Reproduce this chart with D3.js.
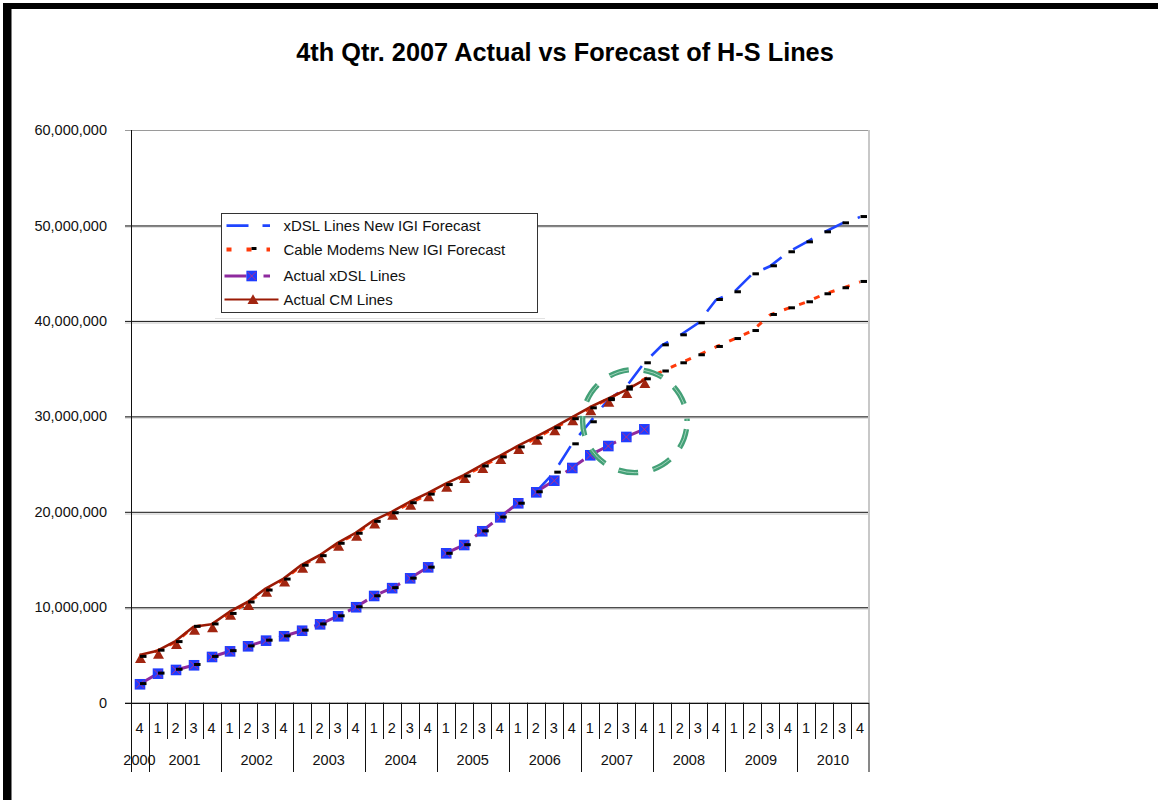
<!DOCTYPE html>
<html>
<head>
<meta charset="utf-8">
<script src="https://cdn.jsdelivr.net/npm/d3@7"></script>
<style>
  html, body { margin: 0; padding: 0; background: #fff; }
  svg { display: block; font-family: "Liberation Sans", Arial, sans-serif; }
</style>
</head>
<body>
<svg id="chart" width="1158" height="800"></svg>
<script>
// Quarterly categories: 2000 Q4 through 2010 Q4
const yearLabels = ["2000", "2001", "2002", "2003", "2004", "2005", "2006", "2007", "2008", "2009", "2010"];
const quartersInYear = [1, 4, 4, 4, 4, 4, 4, 4, 4, 4, 4];
const quarterLabels = ["4",
  "1", "2", "3", "4", "1", "2", "3", "4", "1", "2", "3", "4", "1", "2", "3", "4",
  "1", "2", "3", "4", "1", "2", "3", "4", "1", "2", "3", "4", "1", "2", "3", "4",
  "1", "2", "3", "4", "1", "2", "3", "4"];

// Line counts, in millions
const xdslForecast = [1.95, 3.05, 3.45, 3.95, 4.80, 5.40, 5.90, 6.50, 6.95, 7.55, 8.20, 9.05, 10.00,
  11.15, 12.00, 13.00, 14.15, 15.60, 16.50, 17.95, 19.40, 20.85, 22.05, 24.10, 27.07, 29.38, 31.70,
  33.04, 35.56, 37.44, 38.49, 39.75, 42.19, 43.00, 44.88, 45.72, 47.19, 48.23, 49.28, 50.22, 50.88];
const cmForecast = [4.80, 5.45, 6.35, 7.95, 8.20, 9.30, 10.50, 11.75, 12.90, 14.35, 15.35, 16.65, 17.70,
  18.95, 19.85, 20.90, 21.80, 22.80, 23.70, 24.75, 25.70, 26.75, 27.70, 28.75, 29.70, 30.84, 31.80,
  32.80, 33.88, 34.70, 35.56, 36.40, 37.27, 38.10, 38.94, 40.62, 41.32, 41.95, 42.79, 43.42, 44.08];
const xdslActual = [1.93, 3.04, 3.43, 3.92, 4.79, 5.38, 5.91, 6.50, 6.96, 7.54, 8.21, 9.05, 10.00,
  11.18, 12.00, 13.03, 14.18, 15.65, 16.52, 17.96, 19.42, 20.89, 22.04, 23.26, 24.59, 25.92, 26.89,
  27.84, 28.64];
const cmActual = [5.00, 5.45, 6.46, 7.96, 8.21, 9.53, 10.55, 11.95, 13.00, 14.45, 15.45, 16.75, 17.80,
  19.10, 20.00, 21.05, 21.95, 22.95, 23.85, 24.90, 25.85, 26.90, 27.85, 28.85, 29.90, 30.95, 31.85,
  32.75, 33.80];
const UNIT = 1e6;
const xdslForecastLineStart = 22;   // forecast curve is drawn where it leaves the actuals
const yTicks = [0, 10, 20, 30, 40, 50, 60];

const titleText = "4th Qtr. 2007 Actual vs Forecast of H-S Lines";
const seriesNames = ["xDSL Lines New IGI Forecast", "Cable Modems New IGI Forecast", "Actual xDSL Lines", "Actual CM Lines"];

const C = {
  blue: "#1f45ff", red: "#ff3a0a", purple: "#8e2a9e", square: "#1f3cff",
  cm: "#9b1a05", tri: "#a12510", green: "#44a077"
};

const svg = d3.select("#chart");
const plot = { left: 130.5, right: 869, top: 130, bottom: 702.7 };

const x = d3.scaleBand().domain(d3.range(quarterLabels.length)).range([plot.left, plot.right]).padding(0);
const bw = x.bandwidth();
const cx = i => x(i) + bw / 2;
const y = d3.scaleLinear().domain([0, 60 * UNIT]).range([plot.bottom, plot.top]);
const yv = v => y(v * UNIT);
const crisp = v => Math.round(v) + 0.5;

// Frame
svg.append("rect").attr("x", 3).attr("y", 3).attr("width", 1155).attr("height", 6).attr("fill", "#000");
svg.append("rect").attr("x", 3).attr("y", 3).attr("width", 8.5).attr("height", 797).attr("fill", "#000");

// Title
svg.append("text").attr("x", 565).attr("y", 61).attr("text-anchor", "middle")
  .attr("font-size", 25.3).attr("font-weight", "bold").attr("fill", "#000").text(titleText);

// Gridlines with a soft shadow, and y tick labels
const grid = svg.append("g");
yTicks.forEach(t => {
  const yy = crisp(yv(t));
  if (t > 0 && t < 60) {
    grid.append("line").attr("x1", 125).attr("x2", plot.right).attr("y1", yy + 1.5).attr("y2", yy + 1.5)
      .attr("stroke", "#c4c4c4").attr("stroke-width", 1);
  }
});
const yAxis = d3.axisLeft(y).tickValues(yTicks.map(t => t * UNIT))
  .tickSize(plot.right - 125).tickPadding(18).tickFormat(d3.format(","));
const yAxisG = svg.append("g").attr("transform", `translate(${plot.right},0)`).call(yAxis);
yAxisG.select(".domain").remove();
yAxisG.selectAll(".tick line").attr("stroke", (d) => d === 60 * UNIT ? "#9a9a9a" : "#111").attr("stroke-width", 1);
yAxisG.selectAll(".tick text").attr("font-size", 14.5).attr("fill", "#111")
  .attr("font-family", "\"Liberation Sans\", Arial, sans-serif");

// Plot area right border
svg.append("line").attr("x1", plot.right).attr("x2", plot.right).attr("y1", plot.top).attr("y2", plot.bottom)
  .attr("stroke", "#c8c8c8").attr("stroke-width", 2);

// Category axis
const xa = svg.append("g");
xa.append("line").attr("x1", 125).attr("x2", plot.right).attr("y1", crisp(plot.bottom)).attr("y2", crisp(plot.bottom))
  .attr("stroke", "#111");
const yearBounds = [0];
quartersInYear.forEach(n => yearBounds.push(yearBounds[yearBounds.length - 1] + n));
for (let b = 0; b <= quarterLabels.length; b++) {
  const bx = b === quarterLabels.length ? plot.right : crisp(x(b));
  const long = yearBounds.includes(b);
  xa.append("line").attr("x1", bx).attr("x2", bx)
    .attr("y1", b === 0 ? plot.top : plot.bottom).attr("y2", long ? 772 : 739)
    .attr("stroke", "#111").attr("stroke-width", 1);
}
quarterLabels.forEach((q, i) => {
  xa.append("text").attr("x", cx(i)).attr("y", 732.5).attr("text-anchor", "middle")
    .attr("font-size", 14.5).attr("fill", "#111").text(q);
});
yearLabels.forEach((yr, k) => {
  const mid = (x(yearBounds[k]) + (yearBounds[k + 1] === quarterLabels.length ? plot.right : x(yearBounds[k + 1]))) / 2;
  xa.append("text").attr("x", mid).attr("y", 764.5).attr("text-anchor", "middle")
    .attr("font-size", 14.5).attr("fill", "#111").text(yr);
});

// Series lines
const line = d3.line().x(d => cx(d.i)).y(d => yv(d.v));
const pts = arr => arr.map((v, i) => ({ i, v }));

svg.append("path").datum(pts(xdslForecast).filter(d => d.i >= xdslForecastLineStart)).attr("d", line)
  .attr("fill", "none").attr("stroke", C.blue).attr("stroke-width", 2.6).attr("stroke-dasharray", "22,14");
svg.append("path").datum(pts(cmForecast)).attr("d", line)
  .attr("fill", "none").attr("stroke", C.red).attr("stroke-width", 3).attr("stroke-dasharray", "6,10");
svg.append("path").datum(pts(xdslActual)).attr("d", line)
  .attr("fill", "none").attr("stroke", C.purple).attr("stroke-width", 3).attr("stroke-dasharray", "22,15");
svg.append("path").datum(pts(cmActual)).attr("d", line)
  .attr("fill", "none").attr("stroke", C.cm).attr("stroke-width", 2.6).attr("stroke-linejoin", "round");

// Markers
function squareMarker(g, px, py) {
  g.append("rect").attr("x", px - 5.3).attr("y", py - 5.3).attr("width", 10.6).attr("height", 10.6).attr("fill", C.square);
  g.append("path").attr("d", `M${px - 4},${py - 4}L${px + 4},${py + 4}M${px + 4},${py - 4}L${px - 4},${py + 4}`)
    .attr("stroke", "#c0307a").attr("stroke-width", 0.9);
}
function triangleMarker(g, px, py) {
  g.append("path").attr("d", `M${px},${py - 5.8}L${px + 5.5},${py + 4}L${px - 5.5},${py + 4}Z`).attr("fill", C.tri);
}
function dashMarker(g, px, py) {
  g.append("rect").attr("x", px - 3).attr("y", py - 1.5).attr("width", 6.5).attr("height", 3).attr("fill", "#000");
}

const mk = svg.append("g");
pts(cmActual).forEach(d => triangleMarker(mk, cx(d.i) + 1, yv(d.v) + 4));
pts(xdslActual).forEach(d => squareMarker(mk, cx(d.i) + 0.5, yv(d.v)));
pts(xdslForecast).forEach(d => dashMarker(mk, cx(d.i) + 3.5, yv(d.v) - 0.5));
pts(cmForecast).forEach(d => dashMarker(mk, cx(d.i) + 3.5, yv(d.v) - 0.5));

// Highlight around the latest actuals
const ell = {
  cx: x(28), cy: yv(29.5),
  rx: bw * 2.9, ry: yv(0) - yv(5.4)
};
svg.append("ellipse").attr("cx", ell.cx).attr("cy", ell.cy).attr("rx", ell.rx).attr("ry", ell.ry)
  .attr("fill", "none").attr("stroke", C.green).attr("stroke-width", 5.4)
  .attr("stroke-dasharray", "20,15").attr("stroke-dashoffset", 27);
svg.append("ellipse").attr("cx", ell.cx).attr("cy", ell.cy).attr("rx", ell.rx).attr("ry", ell.ry)
  .attr("fill", "none").attr("stroke", "#9fd4ba").attr("stroke-width", 1)
  .attr("stroke-dasharray", "20,15").attr("stroke-dashoffset", 27);

// Legend
const lg = svg.append("g");
lg.append("line").attr("x1", 215).attr("x2", 545).attr("y1", 318.5).attr("y2", 318.5).attr("stroke", "#e2e2e2");
lg.append("rect").attr("x", 221.5).attr("y", 213.5).attr("width", 316).attr("height", 99)
  .attr("fill", "#fff").attr("stroke", "#333").attr("stroke-width", 1);
const rowY = [225.7, 249.5, 276, 300];
// xDSL forecast
lg.append("line").attr("x1", 226.5).attr("x2", 270).attr("y1", rowY[0]).attr("y2", rowY[0])
  .attr("stroke", C.blue).attr("stroke-width", 2.8).attr("stroke-dasharray", "22,14");
// Cable modem forecast
lg.append("line").attr("x1", 226.5).attr("x2", 270).attr("y1", rowY[1]).attr("y2", rowY[1])
  .attr("stroke", C.red).attr("stroke-width", 4).attr("stroke-dasharray", "5,15");
lg.append("rect").attr("x", 251.5).attr("y", rowY[1] - 2.5).attr("width", 5).attr("height", 3).attr("fill", "#000");
// Actual xDSL
lg.append("line").attr("x1", 224.5).attr("x2", 270).attr("y1", rowY[2]).attr("y2", rowY[2])
  .attr("stroke", C.purple).attr("stroke-width", 3).attr("stroke-dasharray", "22,17");
squareMarker(lg, 251.7, rowY[2]);
// Actual CM
lg.append("line").attr("x1", 224.5).attr("x2", 278.5).attr("y1", rowY[3] - 0.5).attr("y2", rowY[3] - 0.5)
  .attr("stroke", C.cm).attr("stroke-width", 2);
triangleMarker(lg, 253, rowY[3]);
seriesNames.forEach((n, k) => {
  lg.append("text").attr("x", 283.5).attr("y", rowY[k] + 5.3).attr("font-size", 15).attr("fill", "#111").text(n);
});
</script>
</body>
</html>
